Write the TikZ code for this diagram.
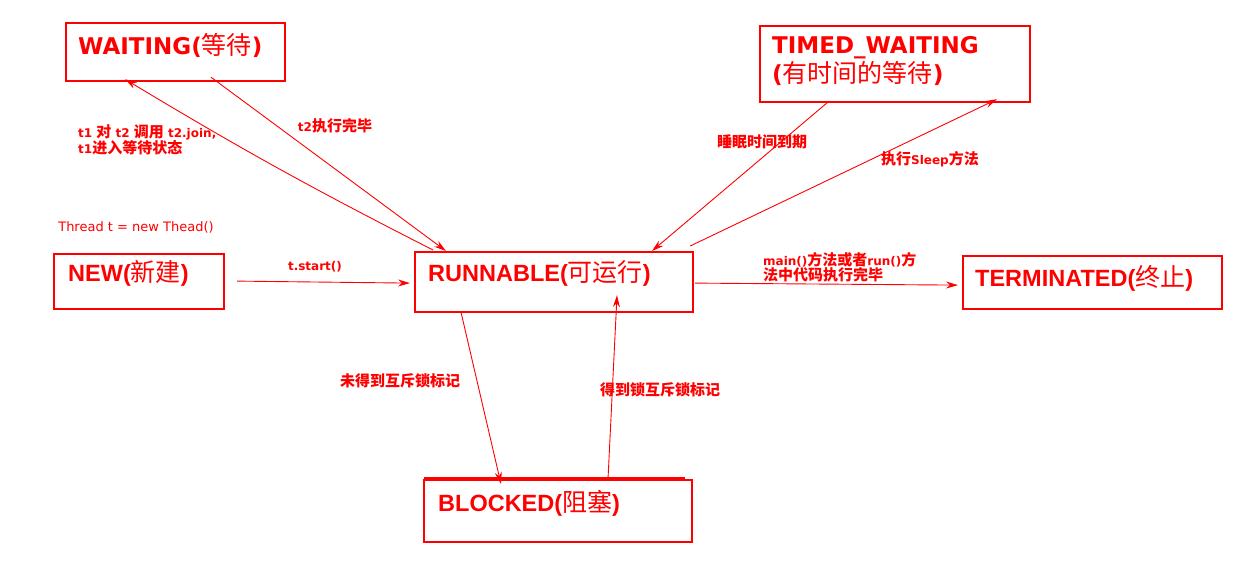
\documentclass[tikz,border=0pt]{standalone}
\usepackage{fontspec}
\setmainfont{Liberation Sans}
\newfontfamily\dvfont{DejaVu Sans}
\newfontfamily\cjkfont{Noto Sans CJK SC}
\usetikzlibrary{arrows.meta,calc}
\definecolor{rd}{RGB}{255,0,0}
\newcommand\zh[1]{{\cjkfont\mdseries\fontsize{25}{29}\selectfont #1}}
\newcommand\zs[1]{{\cjkfont\bfseries\fontsize{15}{14}\selectfont #1}}
\begin{document}
\begin{tikzpicture}[x=1pt,y=-1pt,
  box/.style={draw=rd, line width=2.2pt, inner sep=0pt, anchor=north west},
  bigtxt/.style={text=rd, inner sep=0pt, anchor=west, align=left,
    font=\fontsize{23.5}{29}\selectfont\bfseries},
  lbl/.style={text=rd, inner sep=0pt, align=left,
    font=\fontsize{12}{14}\selectfont\dvfont\bfseries},
  arr/.style={draw=rd, line width=0.9pt, -{Stealth[length=12pt,width=7pt,inset=4pt]}}]
\useasboundingbox (0,0) rectangle (1256,574);
\fill[white] (0,0) rectangle (1256,574);
% boxes
\node[box, minimum width=219pt, minimum height=58pt] (waiting) at (65,22) {};
\node[box, minimum width=270pt, minimum height=76pt] (timed) at (759,25) {};
\node[box, minimum width=170pt, minimum height=55pt] (new) at (53,253) {};
\node[box, minimum width=278pt, minimum height=60pt] (run) at (414,251) {};
\node[box, minimum width=259pt, minimum height=53pt] (term) at (962,255) {};
\node[box, minimum width=268pt, minimum height=62pt] (blocked) at (423,479) {};
\draw[rd, line width=2pt] ($(blocked.north west)+(1,-0.8)$) -- ($(blocked.north west)+(262,-0.8)$);
% box texts
\node[bigtxt] (waitingt) at (78,45) {\fontsize{23}{29}\selectfont\dvfont WAITING(\zh{等待})};
\node[bigtxt] (timedt) at (772,61) {\fontsize{23}{29}\selectfont\dvfont TIMED\_WAITING\\\dvfont(\zh{有时间的等待})};
\node[bigtxt] (newt) at (68,273) {NEW(\zh{新建})};
\node[bigtxt] (runt) at (428,273.5) {RUNNABLE(\zh{可运行})};
\node[bigtxt] (termt) at (975,278) {TERMINATED(\zh{终止})};
\node[bigtxt] (blockedt) at (438,503) {BLOCKED(\zh{阻塞})};
% labels
\node[lbl, anchor=north west] (l1) at (78,124) {t1 \zs{对} t2 \zs{调用} t2.join,\\t1\zs{进入等待状态}};
\node[lbl] (l2) at (335,126) {t2\zs{执行完毕}};
\node[lbl] (l3) at (762,142) {\zs{睡眠时间到期}};
\node[lbl] (l4) at (930,159) {\zs{执行}Sleep\zs{方法}};
\node[lbl] (l5) at (315,267) {t.start()};
\node[text=rd, inner sep=0pt, font=\fontsize{13}{15}\selectfont\dvfont] (l6) at (136,227) {Thread t = new Thead()};
\node[lbl, anchor=north west] (l7) at (763,252) {main()\zs{方法或者}run()\zs{方}\\\zs{法中代码执行完毕}};
\node[lbl] (l8) at (400,381) {\zs{未得到互斥锁标记}};
\node[lbl] (l9) at (660,390) {\zs{得到锁互斥锁标记}};
% connectors
\coordinate (a1) at ($(run.north west)+(19,-1)$);
\coordinate (b1) at ($(waiting.south west)+(60,-3)$);
\draw[arr] (a1) to[bend left=2] (b1);
\coordinate (a2) at ($(waiting.south west)+(146,-5)$);
\coordinate (b2) at ($(run.north west)+(32,0)$);
\draw[arr] (a2) -- (b2);
\coordinate (a3) at ($(timed.south west)+(70,-2)$);
\coordinate (b3) at ($(run.north west)+(238,0)$);
\draw[arr] (a3) -- (b3);
\coordinate (a4) at ($(run.north east)+(-4,-5)$);
\coordinate (b4) at ($(timed.south west)+(238,-4)$);
\draw[arr] (a4) -- (b4);
\coordinate (a5) at ($(new.east)+(12,-0.5)$);
\coordinate (b5) at ($(run.west)+(-4,1)$);
\draw[arr] (a5) -- (b5);
\coordinate (a6) at ($(run.east)+(1,1)$);
\coordinate (b6) at ($(term.west)+(-4,2.5)$);
\draw[arr] (a6) -- (b6);
\coordinate (a7) at ($(run.south west)+(47,-1)$);
\coordinate (b7) at ($(blocked.north west)+(78,5)$);
\draw[arr] (a7) -- (b7);
\coordinate (a8) at ($(blocked.north west)+(185,0)$);
\coordinate (b8) at ($(run.south west)+(203,-18)$);
\draw[arr] (a8) -- (b8);
\end{tikzpicture}
\end{document}
